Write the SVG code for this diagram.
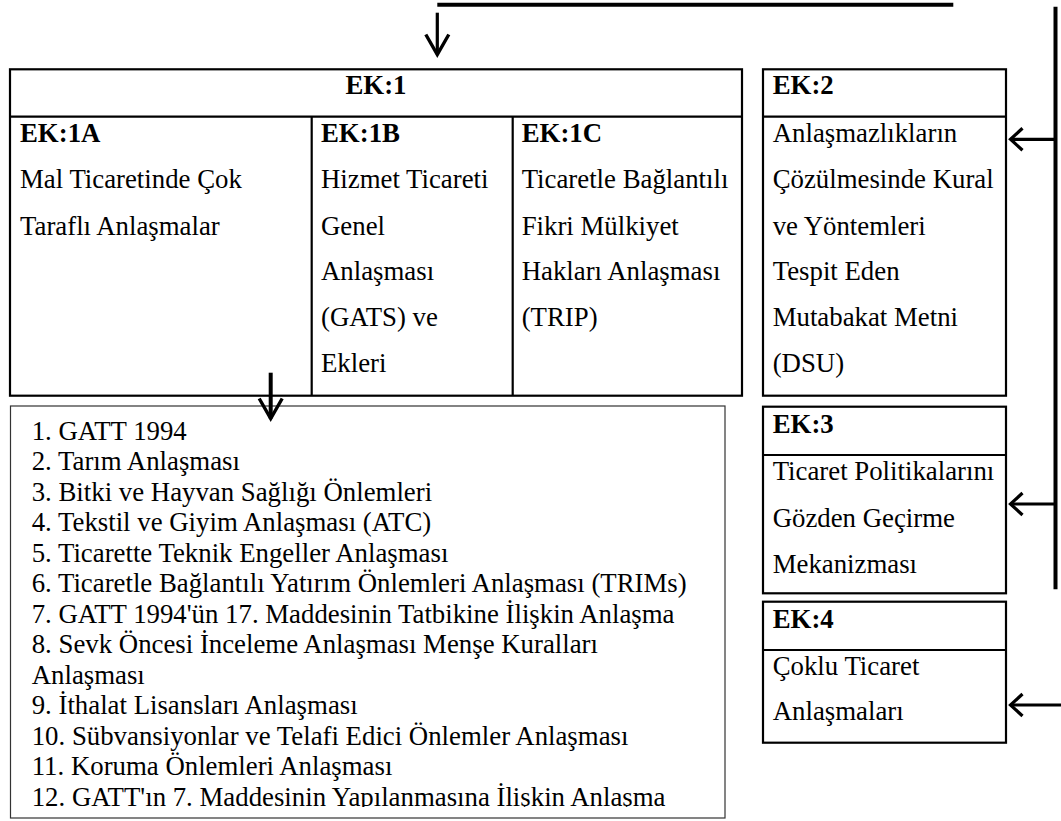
<svg xmlns="http://www.w3.org/2000/svg" width="1061" height="821" viewBox="0 0 1061 821">
  <style>
    text { font-family: "Liberation Serif", "Times New Roman", serif; font-size: 26.8px; fill: #000; }
    .b { font-weight: bold; }
    .box { fill: none; stroke: #000; stroke-width: 2.2; }
    .thin { fill: none; stroke: #333; stroke-width: 1.2; }
    .con { fill: none; stroke: #000; stroke-width: 4; }
    .arr { fill: none; stroke: #000; stroke-width: 3.2; }
  </style>
  <defs>
    <marker id="headDown" markerUnits="userSpaceOnUse" viewBox="-24 -14 28 28" markerWidth="28" markerHeight="28" refX="0" refY="0" orient="auto">
      <path d="M -20 -11.5 L 0 0 L -20 11.5" fill="none" stroke="#000" stroke-width="3.4"/>
    </marker>
    <marker id="headLeft" markerUnits="userSpaceOnUse" viewBox="-16 -14 20 28" markerWidth="20" markerHeight="28" refX="0" refY="0" orient="auto">
      <path d="M -12 -11 L 0 0 L -12 11" fill="none" stroke="#000" stroke-width="3.2"/>
    </marker>
    <clipPath id="listClip">
      <rect x="11" y="407" width="713" height="400"/>
    </clipPath>
  </defs>

  <g id="ek1">
    <rect class="box" x="10" y="69.3" width="732" height="326.4"/>
    <line class="box" x1="10" y1="116.7" x2="742" y2="116.7"/>
    <line class="box" x1="311.7" y1="116.7" x2="311.7" y2="395.7"/>
    <line class="box" x1="512.7" y1="116.7" x2="512.7" y2="395.7"/>
    <text class="b" x="376" y="94" text-anchor="middle">EK:1</text>
  </g>

  <g id="ek1a">
    <text class="b" x="20" y="141.7">EK:1A</text>
    <text x="20" y="188">Mal Ticaretinde Çok</text>
    <text x="20" y="234.5">Taraflı Anlaşmalar</text>
  </g>

  <g id="ek1b">
    <text class="b" x="321" y="141.7">EK:1B</text>
    <text x="321" y="188">Hizmet Ticareti</text>
    <text x="321" y="234.5">Genel</text>
    <text x="321" y="280">Anlaşması</text>
    <text x="321" y="325.7">(GATS) ve</text>
    <text x="321" y="371.7">Ekleri</text>
  </g>

  <g id="ek1c">
    <text class="b" x="521.7" y="141.7">EK:1C</text>
    <text x="521.7" y="188">Ticaretle Bağlantılı</text>
    <text x="521.7" y="234.5">Fikri Mülkiyet</text>
    <text x="521.7" y="280">Hakları Anlaşması</text>
    <text x="521.7" y="325.7">(TRIP)</text>
  </g>

  <g id="ek2">
    <rect class="box" x="763" y="69.3" width="243" height="326.4"/>
    <line class="box" x1="763" y1="116.7" x2="1006" y2="116.7"/>
    <text class="b" x="772.7" y="93.5">EK:2</text>
    <text x="772.7" y="141.7">Anlaşmazlıkların</text>
    <text x="772.7" y="188">Çözülmesinde Kural</text>
    <text x="772.7" y="234.5">ve Yöntemleri</text>
    <text x="772.7" y="280">Tespit Eden</text>
    <text x="772.7" y="325.7">Mutabakat Metni</text>
    <text x="772.7" y="371.7">(DSU)</text>
  </g>

  <g id="ek3">
    <rect class="box" x="763" y="406.7" width="243" height="186.6"/>
    <line class="box" x1="763" y1="455" x2="1006" y2="455"/>
    <text class="b" x="772.7" y="432.7">EK:3</text>
    <text x="772.7" y="480">Ticaret Politikalarını</text>
    <text x="772.7" y="526.7">Gözden Geçirme</text>
    <text x="772.7" y="572.7">Mekanizması</text>
  </g>

  <g id="ek4">
    <rect class="box" x="763" y="601.7" width="243" height="141"/>
    <line class="box" x1="763" y1="650" x2="1006" y2="650"/>
    <text class="b" x="772.7" y="628.3">EK:4</text>
    <text x="772.7" y="675">Çoklu Ticaret</text>
    <text x="772.7" y="720">Anlaşmaları</text>
  </g>

  <g id="list">
    <rect class="thin" x="10.5" y="406" width="714.5" height="412"/>
    <g clip-path="url(#listClip)">
      <text x="31.7" y="439.5">1. GATT 1994</text>
      <text x="31.7" y="470">2. Tarım Anlaşması</text>
      <text x="31.7" y="500.5">3. Bitki ve Hayvan Sağlığı Önlemleri</text>
      <text x="31.7" y="531">4. Tekstil ve Giyim Anlaşması (ATC)</text>
      <text x="31.7" y="561.5">5. Ticarette Teknik Engeller Anlaşması</text>
      <text x="31.7" y="592">6. Ticaretle Bağlantılı Yatırım Önlemleri Anlaşması (TRIMs)</text>
      <text x="31.7" y="622.5">7. GATT 1994'ün 17. Maddesinin Tatbikine İlişkin Anlaşma</text>
      <text x="31.7" y="653">8. Sevk Öncesi İnceleme Anlaşması Menşe Kuralları</text>
      <text x="31.7" y="683.5">Anlaşması</text>
      <text x="31.7" y="714">9. İthalat Lisansları Anlaşması</text>
      <text x="31.7" y="744.5">10. Sübvansiyonlar ve Telafi Edici Önlemler Anlaşması</text>
      <text x="31.7" y="775">11. Koruma Önlemleri Anlaşması</text>
      <text x="31.7" y="805.5">12. GATT'ın 7. Maddesinin Yapılanmasına İlişkin Anlaşma</text>
    </g>
  </g>

  <g id="connectors">
    <line class="con" x1="437.3" y1="4.7" x2="953.3" y2="4.7"/>
    <line class="con" x1="1055.5" y1="6.7" x2="1055.5" y2="589.3"/>
    <line class="arr" x1="437.3" y1="12.7" x2="437.3" y2="54.5" marker-end="url(#headDown)"/>
    <line class="con" x1="270.7" y1="372.7" x2="270.7" y2="418.5" marker-end="url(#headDown)"/>
    <line class="arr" x1="1055" y1="139.3" x2="1010.5" y2="139.3" marker-end="url(#headLeft)"/>
    <line class="arr" x1="1055" y1="504" x2="1010.5" y2="504" marker-end="url(#headLeft)"/>
    <line class="arr" x1="1061" y1="705" x2="1010.5" y2="705" marker-end="url(#headLeft)"/>
  </g>
</svg>
